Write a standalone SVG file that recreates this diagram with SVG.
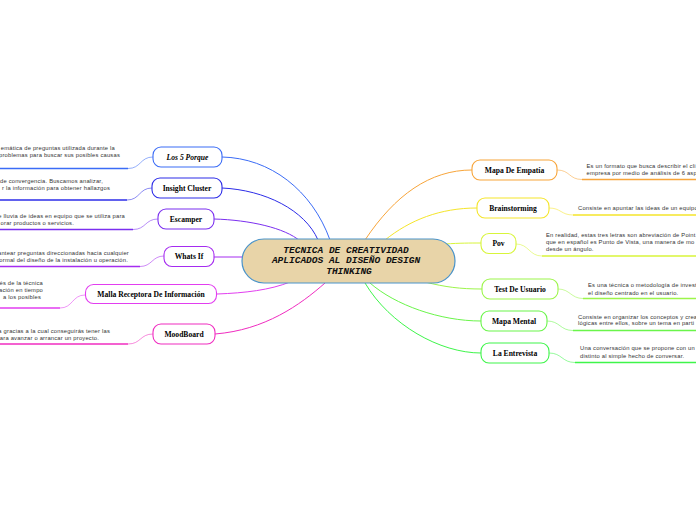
<svg xmlns="http://www.w3.org/2000/svg" width="696" height="520" viewBox="0 0 696 520">
<style>
.n{fill:#fff;stroke-width:1.1}
.lbl{font-family:"Liberation Serif",serif;font-weight:bold;font-size:7.6px;fill:#000;text-anchor:middle}
.d{font-family:"Liberation Sans",Arial,sans-serif;font-size:5.8px;letter-spacing:0.2px;fill:#333}
.de{font-family:"Liberation Sans",Arial,sans-serif;font-size:5.8px;letter-spacing:0.2px;fill:#333;text-anchor:end}
.c{fill:none;stroke-width:1}
.u{fill:none;stroke-width:1.5}
.s{fill:none;stroke-width:1;opacity:.55}
</style>
<rect width="696" height="520" fill="#fff"/>
<g id="connectors">
<path class="c" stroke="#3b6cf6" d="M222,157 C270,158 312,190 330,240"/>
<path class="c" stroke="#2c2ce8" d="M222,188 C265,190 305,210 318,240"/>
<path class="c" stroke="#7b2ff0" d="M214,219 C250,220 285,228 300,241"/>
<path class="c" stroke="#a52cf0" d="M214,257 L243,257"/>
<path class="c" stroke="#e23ef0" d="M217,294 C245,293 270,290 290,282"/>
<path class="c" stroke="#f02cc0" d="M215,334 C265,330 300,305 325,283"/>
<path class="c" stroke="#f8a53a" d="M365,240 C395,195 430,170 472,170"/>
<path class="c" stroke="#f5e52a" d="M385,240 C410,220 440,208 477,208"/>
<path class="c" stroke="#d8f53a" d="M445,244 C460,243 470,243 481,243"/>
<path class="c" stroke="#9cf54a" d="M425,282 C445,287 460,289 482,289"/>
<path class="c" stroke="#6af54a" d="M370,283 C395,305 440,321 481,321"/>
<path class="c" stroke="#3ef54a" d="M365,283 C390,325 440,353 481,353"/>
<path class="u" stroke="#3b6cf6" d="M0,168.5 H128"/>
<path class="s" stroke="#3b6cf6" d="M128,168.5 C141,168.5 140,157 153,157"/>
<path class="u" stroke="#2c2ce8" d="M0,200 H127"/>
<path class="s" stroke="#2c2ce8" d="M127,200 C140,200 139,188 152,188"/>
<path class="u" stroke="#7b2ff0" d="M0,229.5 H133"/>
<path class="s" stroke="#7b2ff0" d="M133,229.5 C146,229.5 145,219 158,219"/>
<path class="u" stroke="#a52cf0" d="M0,266.5 H140"/>
<path class="s" stroke="#a52cf0" d="M140,266.5 C152,266.5 152,256 164,256"/>
<path class="u" stroke="#e23ef0" d="M0,308 H60"/>
<path class="s" stroke="#e23ef0" d="M60,308 C73,308 72,295 85,295"/>
<path class="u" stroke="#f02cc0" d="M0,344 H128"/>
<path class="s" stroke="#f02cc0" d="M128,344 C141,344 140,334 153,334"/>
<path class="u" stroke="#f8a53a" d="M582,179.5 H696"/>
<path class="s" stroke="#f8a53a" d="M557,170 C570,170 569,179.5 582,179.5"/>
<path class="u" stroke="#f5e52a" d="M573,215 H696"/>
<path class="s" stroke="#f5e52a" d="M549,208 C561,208 561,215 573,215"/>
<path class="u" stroke="#d8f53a" d="M542,256 H696"/>
<path class="s" stroke="#d8f53a" d="M516,244 C529,244 529,256 542,256"/>
<path class="u" stroke="#9cf54a" d="M583,298.5 H696"/>
<path class="s" stroke="#9cf54a" d="M558,289 C570,289 571,298.5 583,298.5"/>
<path class="u" stroke="#6af54a" d="M573,330.5 H696"/>
<path class="s" stroke="#6af54a" d="M547,321 C560,321 560,330.5 573,330.5"/>
<path class="u" stroke="#3ef54a" d="M575,362.5 H696"/>
<path class="s" stroke="#3ef54a" d="M549,353 C562,353 562,362.5 575,362.5"/>
</g>
<g id="center">
<rect x="242" y="239" width="213" height="44" rx="22" fill="#e8d4a8" stroke="#4a93c9" stroke-width="1.2"/>
<g font-family="'Liberation Mono',monospace" font-weight="bold" font-style="italic" font-size="9.5" text-anchor="middle" fill="#111">
<text x="346" y="253">TECNICA DE CREATIVIDAD</text>
<text x="346" y="263">APLICADOS AL DISEÑO DESIGN</text>
<text x="349" y="274">THINKING</text>
</g>
</g>
<g id="los5porque">
<rect class="n" x="153" y="147" width="69" height="20" rx="8" stroke="#3b6cf6"/>
<text class="lbl" x="187.5" y="159.5" font-style="italic">Los 5 Porque</text>
<text class="de" x="115" y="149.5">emática de preguntas utilizada durante la</text>
<text class="de" x="120" y="157">problemas para buscar sus posibles causas</text>
</g>
<g id="insightcluster">
<rect class="n" x="152" y="178" width="70" height="20" rx="8" stroke="#2c2ce8"/>
<text class="lbl" x="187" y="190.5">Insight Cluster</text>
<text class="de" x="103" y="182.5">a de convergencia. Buscamos analizar,</text>
<text class="de" x="110" y="189.5">r la información para obtener hallazgos</text>
</g>
<g id="escamper">
<rect class="n" x="158" y="209" width="56" height="20" rx="8" stroke="#7b2ff0"/>
<text class="lbl" x="186" y="221.5">Escamper</text>
<text class="de" x="125" y="217.5">e lluvia de ideas en equipo que se utiliza para</text>
<text class="de" x="74" y="224.5">orar productos o servicios.</text>
</g>
<g id="whatsif">
<rect class="n" x="164" y="246.5" width="50" height="20" rx="8" stroke="#a52cf0"/>
<text class="lbl" x="189" y="259">Whats If</text>
<text class="de" x="129" y="254.5">antear preguntas direccionadas hacia cualquier</text>
<text class="de" x="128" y="261.5">ormal del diseño de la instalación u operación.</text>
</g>
<g id="malla">
<rect class="n" x="85.5" y="284.5" width="131" height="19" rx="8" stroke="#e23ef0"/>
<text class="lbl" x="151" y="296.5">Malla Receptora De Información</text>
<text class="de" x="43" y="284.5">és de la técnica</text>
<text class="de" x="43" y="291.5">ación en tiempo</text>
<text class="de" x="41" y="298.5">a los posibles</text>
</g>
<g id="moodboard">
<rect class="n" x="153" y="324" width="62" height="20" rx="8" stroke="#f02cc0"/>
<text class="lbl" x="184" y="336.5">MoodBoard</text>
<text class="de" x="110" y="332.5">a gracias a la cual conseguirás tener las</text>
<text class="de" x="99" y="339.5">ara avanzar o arrancar un proyecto.</text>
</g>
<g id="mapaempatia">
<rect class="n" x="472" y="160" width="85" height="20" rx="8" stroke="#f8a53a"/>
<text class="lbl" x="514.5" y="172.5">Mapa De Empatía</text>
<text class="d" x="586.5" y="167.5">Es un formato que busca describir el cli</text>
<text class="d" x="586.5" y="175">empresa por medio de análisis de 6 asp</text>
</g>
<g id="brainstorming">
<rect class="n" x="477" y="198" width="72" height="20" rx="8" stroke="#f5e52a"/>
<text class="lbl" x="513" y="210.5">Brainstorming</text>
<text class="d" x="578" y="210">Consiste en apuntar las ideas de un equipo</text>
</g>
<g id="pov">
<rect class="n" x="481" y="233.5" width="35" height="20" rx="8" stroke="#d8f53a"/>
<text class="lbl" x="498.5" y="246">Pov</text>
<text class="d" x="546" y="237">En realidad, estas tres letras son abreviación de Point</text>
<text class="d" x="546" y="243.7">que en español es Punto de Vista, una manera de mo</text>
<text class="d" x="546" y="250.5">desde un ángulo.</text>
</g>
<g id="testusuario">
<rect class="n" x="482" y="279" width="76" height="20" rx="8" stroke="#9cf54a"/>
<text class="lbl" x="520" y="291.5">Test De Usuario</text>
<text class="d" x="588" y="287">Es una técnica o metodología de invest</text>
<text class="d" x="588" y="294.5">el diseño centrado en el usuario.</text>
</g>
<g id="mapamental">
<rect class="n" x="481" y="311" width="66" height="20" rx="8" stroke="#6af54a"/>
<text class="lbl" x="514" y="323.5">Mapa Mental</text>
<text class="d" x="578" y="318.5">Consiste en organizar los conceptos y crea</text>
<text class="d" x="578" y="325">lógicas entre ellos, sobre un tema en parti</text>
</g>
<g id="entrevista">
<rect class="n" x="481" y="343" width="68" height="20" rx="8" stroke="#3ef54a"/>
<text class="lbl" x="515" y="355.5">La Entrevista</text>
<text class="d" x="580" y="350">Una conversación que se propone con un</text>
<text class="d" x="580" y="357.5">distinto al simple hecho de conversar.</text>
</g>
</svg>
